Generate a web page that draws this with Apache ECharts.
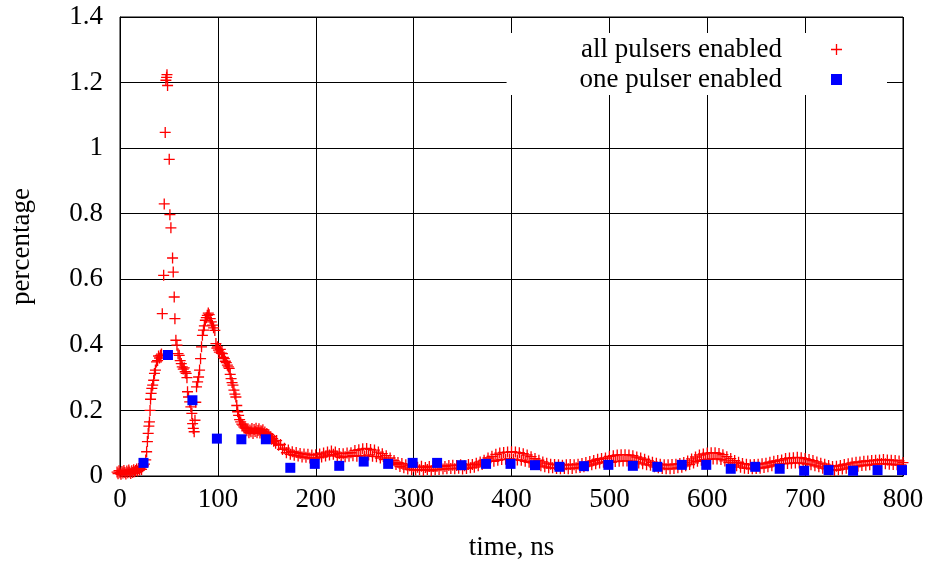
<!DOCTYPE html>
<html><head><meta charset="utf-8">
<script src="https://cdn.jsdelivr.net/npm/echarts@6/dist/echarts.min.js"></script>
<style>html,body{margin:0;padding:0;background:#fff}#c{width:930px;height:568px}</style>
</head><body><div id="c"></div>
<script>
// ---- data ----
const seriesNames = ['all pulsers enabled', 'one pulser enabled'];
const xAxisTitle = 'time, ns';
const yAxisTitle = 'percentage';

// all pulsers enabled: early part (irregular sample times, ns)
const redEarlyX = [-3,-2,-1,0,1,2,3,4,5,6,7,8,9,10,11,12,13,14,15,16,17,18,19,20,21,22,23,24,25,
  26.3,27.2,28.0,28.8,29.5,30.1,30.7,31.2,31.8,32.5,33.4,34.4,35.2,36.2,37.3,38.4,39.4,40.4,41.4,42.4,
  43.2,44.6,45.2,46.2,46.9,47.6,48.0,48.6,50.3,51.0,52.0,53.7,54.4,55.4,56.1,57.1,58.2,59.3,60.5,61.5,
  62.6,63.6,64.6,65.6,66.6,67.6,68.4,69.0,70.0,71.2,72.4,73.4,74.2,74.9,75.8,76.6,77.4,78.2,79.3,80.3,
  81.3,82.3,83.3,84.2,85.3,86.2,87.2,88.2,89.2,90.2,91.1,92.2,93.3,94.4,95.6,96.9,98.0,98.9,99.7,100.6,
  101.5,102.5,103.5,104.6,105.6,106.6,107.6,108.6,109.7,110.7,111.6,112.6,113.5,114.5,115.4,116.4,117.4,118.4,119.3,120.2,
  121.2,122.2,123.3,124.4,125.4,126.5,127.6,128.6,129.6,130.7,131.7,132.8,133.8,134.8,135.9,137,138,139,140,141,
  142,143,144,145,146,147,148,149,150,151,152,153,154,155,156,157,158,159];
const redEarlyY = [.012,.007,.016,.010,.005,.014,.009,.017,.011,.006,.015,.010,.018,.012,.008,.016,.011,.019,.013,.017,.021,.015,.023,.018,.025,.020,.028,.031,.036,
  .049,.074,.105,.130,.152,.165,.200,.234,.252,.267,.277,.292,.313,.323,.348,.352,.366,.360,.368,.372,
  .495,.612,.830,1.048,1.207,1.216,1.224,1.191,.966,.797,.757,.665,.622,.546,.480,.414,.399,.373,.368,.352,
  .343,.333,.326,.330,.318,.313,.300,.257,.241,.226,.211,.191,.160,.145,.135,.170,.225,.272,.287,.302,
  .323,.358,.394,.429,.445,.458,.475,.483,.490,.497,.492,.480,.470,.460,.452,.444,.404,.390,.394,.384,
  .378,.386,.375,.373,.362,.358,.350,.346,.338,.333,.328,.310,.297,.285,.277,.262,.250,.241,.215,.196,
  .185,.172,.165,.158,.155,.150,.147,.145,.138,.144,.132,.140,.135,.145,.130,.142,.136,.146,.132,.139,
  .144,.131,.138,.135,.141,.128,.134,.125,.130,.122,.126,.118,.120,.112,.114,.106,.108,.100];

// all pulsers enabled: later part, one reading every 2 ns from 160 ns
const redLateStart = 160, redLateStep = 2;
const redLateY = [
  .108,.094,.096,.081,.085,.071,.079,.066,.074,.063,
  .072,.061,.069,.058,.067,.057,.066,.055,.064,.054,
  .065,.056,.067,.058,.070,.061,.073,.064,.076,.066,
  .073,.061,.069,.057,.068,.059,.070,.060,.071,.062,
  .078,.060,.080,.062,.083,.061,.084,.064,.081,.060,
  .079,.059,.073,.055,.068,.050,.062,.045,.055,.038,
  .047,.035,.041,.029,.038,.025,.034,.021,.031,.019,
  .028,.018,.027,.019,.030,.017,.026,.020,.029,.016,
  .029,.019,.030,.020,.031,.021,.029,.022,.032,.023,
  .033,.022,.032,.024,.034,.021,.031,.023,.035,.025,
  .035,.027,.039,.031,.043,.035,.048,.041,.055,.045,
  .060,.045,.066,.048,.070,.050,.072,.051,.073,.052,
  .074,.051,.073,.049,.071,.048,.068,.045,.064,.042,
  .059,.040,.053,.036,.048,.031,.043,.028,.039,.025,
  .036,.025,.035,.023,.034,.022,.033,.023,.034,.022,
  .035,.023,.034,.025,.036,.026,.038,.028,.041,.031,
  .044,.034,.047,.037,.051,.040,.053,.042,.055,.044,
  .060,.042,.062,.044,.064,.045,.065,.046,.065,.046,
  .064,.045,.062,.043,.058,.040,.055,.037,.051,.034,
  .046,.033,.042,.028,.039,.025,.036,.023,.034,.022,
  .034,.022,.035,.023,.036,.025,.038,.027,.041,.031,
  .046,.035,.052,.040,.058,.045,.064,.048,.067,.050,
  .070,.051,.071,.052,.071,.052,.069,.050,.065,.046,
  .059,.041,.053,.036,.047,.031,.042,.027,.038,.024,
  .036,.023,.034,.022,.035,.023,.036,.024,.037,.026,
  .039,.028,.042,.031,.045,.034,.047,.036,.049,.038,
  .053,.038,.055,.039,.056,.040,.057,.040,.056,.038,
  .053,.036,.050,.034,.047,.031,.043,.028,.039,.024,
  .036,.022,.032,.018,.029,.017,.030,.019,.032,.021,
  .035,.024,.037,.027,.040,.029,.042,.030,.043,.032,
  .045,.033,.046,.034,.047,.035,.048,.037,.049,.038,
  .050,.037,.049,.036,.048,.035,.047,.034,.046,.034,.041];

// one pulser enabled
const blueX = [24,49,74,99,124,149,174,199,224,249,274,299,324,349,374,399,424,449,474,499,524,549,574,599,624,649,674,699,724,749,774,799];
const blueY = [.040,.369,.231,.114,.112,.112,.025,.037,.031,.044,.037,.040,.040,.033,.037,.037,.033,.028,.030,.034,.031,.028,.034,.034,.022,.028,.022,.016,.018,.016,.018,.018];

const xMin = 0, xMax = 800, xStep = 100;
const yMin = 0, yMax = 1.4, yStep = 0.2;

// ---- build ----
const redData = redEarlyX.map((x, i) => [x, redEarlyY[i]])
  .concat(redLateY.map((y, i) => [redLateStart + i * redLateStep, y]));
const blueData = blueX.map((x, i) => [x, blueY[i]]);

const FONT = "'Liberation Serif', 'Times New Roman', serif";
const plusPath = 'path://M4.4,0H5.6V4.4H10V5.6H5.6V10H4.4V5.6H0V4.4H4.4Z';

const chart = echarts.init(document.getElementById('c'), null, {renderer: 'canvas'});
chart.setOption({
  animation: false,
  backgroundColor: '#fff',
  grid: {left: 119, right: 27, top: 17, bottom: 92, show: true, borderColor: '#000', borderWidth: 1, backgroundColor: 'transparent'},
  xAxis: {
    type: 'value', min: xMin, max: xMax, interval: xStep,
    name: xAxisTitle, nameLocation: 'middle', nameGap: 58,
    nameTextStyle: {fontFamily: FONT, fontSize: 27, color: '#000'},
    axisLine: {show: true, onZero: false, lineStyle: {color: '#000', width: 1}},
    axisTick: {show: true, inside: true, length: 8, lineStyle: {color: '#000'}},
    axisLabel: {fontFamily: FONT, fontSize: 27, color: '#000', margin: 10},
    splitLine: {show: true, lineStyle: {color: '#000', width: 1}}
  },
  yAxis: {
    type: 'value', min: yMin, max: yMax, interval: yStep,
    name: yAxisTitle, nameLocation: 'middle', nameGap: 85, nameRotate: 90,
    nameTextStyle: {fontFamily: FONT, fontSize: 27, color: '#000'},
    axisLine: {show: true, lineStyle: {color: '#000', width: 1}},
    axisTick: {show: true, inside: true, length: 8, lineStyle: {color: '#000'}},
    axisLabel: {fontFamily: FONT, fontSize: 27, color: '#000', margin: 17},
    splitLine: {show: true, lineStyle: {color: '#000', width: 1}}
  },
  legend: {
    orient: 'vertical', align: 'right', right: 43, top: 33,
    backgroundColor: '#fff', padding: [3, 45, 2, 73], itemGap: 3,
    itemWidth: 11, itemHeight: 11,
    textStyle: {fontFamily: FONT, fontSize: 27, color: '#000', padding: [0, 44, 0, 0]},
    data: [{name: seriesNames[0], icon: plusPath}, {name: seriesNames[1], icon: 'rect'}]
  },
  series: [
    {name: seriesNames[0], type: 'scatter', data: redData, symbol: plusPath, symbolSize: 11,
     clip: false, itemStyle: {color: '#ff0000', opacity: 1}},
    {name: seriesNames[1], type: 'scatter', data: blueData, symbol: 'rect', symbolSize: 10,
     clip: false, itemStyle: {color: '#0000ff', opacity: 1}}
  ]
});
</script></body></html>
